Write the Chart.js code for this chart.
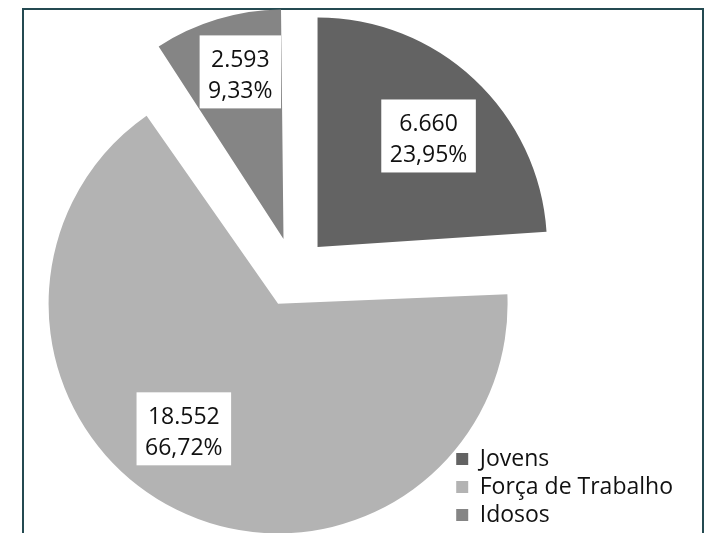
<!DOCTYPE html>
<html>
<head>
<meta charset="utf-8">
<script src="https://cdn.jsdelivr.net/npm/chart.js@4.4.1/dist/chart.umd.min.js"></script>
<style>
  html, body { margin: 0; padding: 0; background: #fff; overflow: hidden; }
  #wrap { position: relative; width: 706px; height: 533px; }
  #frame { position: absolute; left: 22px; top: 8px; width: 678px; height: 600px; border: 2px solid #244a51; }
  #chart { position: absolute; left: 0; top: 0; }
</style>
</head>
<body>
<div id="wrap">
  <div id="frame"></div>
  <canvas id="chart" width="706" height="533"></canvas>
</div>
<script>
// População por faixa etária
const categorias = ['Jovens', 'Força de Trabalho', 'Idosos'];
const populacao = [6660, 18552, 2593];
const cores = ['#636363', '#b3b3b3', '#858585'];

// posição dos rótulos: fração do raio e giro (graus) a partir do meio da fatia
const rotuloDist = [0.684, 0.682, 0.752];
const rotuloGiro = [1.9, 10.7, 2.3];

const RAIO = 229.5;
const OFFSET = 140;          // o ArcElement desloca offset / 4
const DESLOC = OFFSET / 4;
const FONTE = "'Open Sans', sans-serif";

function milhar(v) {
  return String(v).replace(/\B(?=(\d{3})+(?!\d))/g, '.');
}

const rotulos = {
  id: 'rotulos',
  beforeDatasetsDraw(chart) {
    // mesmo raio para todas as fatias destacadas
    chart.getDatasetMeta(0).data.forEach(arc => {
      const fix = 1 - Math.sin(Math.min(Math.PI, arc.circumference));
      arc.outerRadius = RAIO - DESLOC * fix;
    });
  },
  afterDatasetsDraw(chart) {
    const ctx = chart.ctx;
    const total = populacao.reduce((a, b) => a + b, 0);
    ctx.save();
    ctx.font = '23px ' + FONTE;
    ctx.textAlign = 'center';
    ctx.textBaseline = 'alphabetic';
    chart.getDatasetMeta(0).data.forEach((arc, i) => {
      const meio = (arc.startAngle + arc.endAngle) / 2;
      const ax = arc.x + Math.cos(meio) * DESLOC;
      const ay = arc.y + Math.sin(meio) * DESLOC;
      const ang = meio + rotuloGiro[i] * Math.PI / 180;
      const cx = ax + Math.cos(ang) * RAIO * rotuloDist[i];
      const cy = ay + Math.sin(ang) * RAIO * rotuloDist[i];
      const l1 = milhar(populacao[i]);
      const l2 = (populacao[i] / total * 100).toFixed(2).replace('.', ',') + '%';
      const w = Math.max(ctx.measureText(l1).width, ctx.measureText(l2).width) + 17;
      ctx.fillStyle = '#fff';
      ctx.fillRect(cx - w / 2, cy - 36.5, w, 73);
      ctx.fillStyle = '#111';
      ctx.fillText(l1, cx, cy - 4.5);
      ctx.fillText(l2, cx, cy + 26);
    });
    ctx.restore();
  }
};

new Chart(document.getElementById('chart'), {
  type: 'pie',
  data: {
    labels: categorias,
    datasets: [{
      data: populacao,
      backgroundColor: cores,
      borderWidth: 0,
      offset: OFFSET
    }]
  },
  options: {
    responsive: false,
    animation: false,
    events: [],
    radius: RAIO,
    layout: { padding: { left: 136, right: 23, top: 13.5, bottom: 1.5 } },
    plugins: {
      tooltip: { enabled: false },
      legend: {
        position: 'right',
        align: 'end',
        labels: {
          boxWidth: 12,
          boxHeight: 12,
          padding: 5,
          color: '#111',
          font: { family: FONTE, size: 23 }
        }
      }
    }
  },
  plugins: [rotulos]
});
</script>
</body>
</html>
